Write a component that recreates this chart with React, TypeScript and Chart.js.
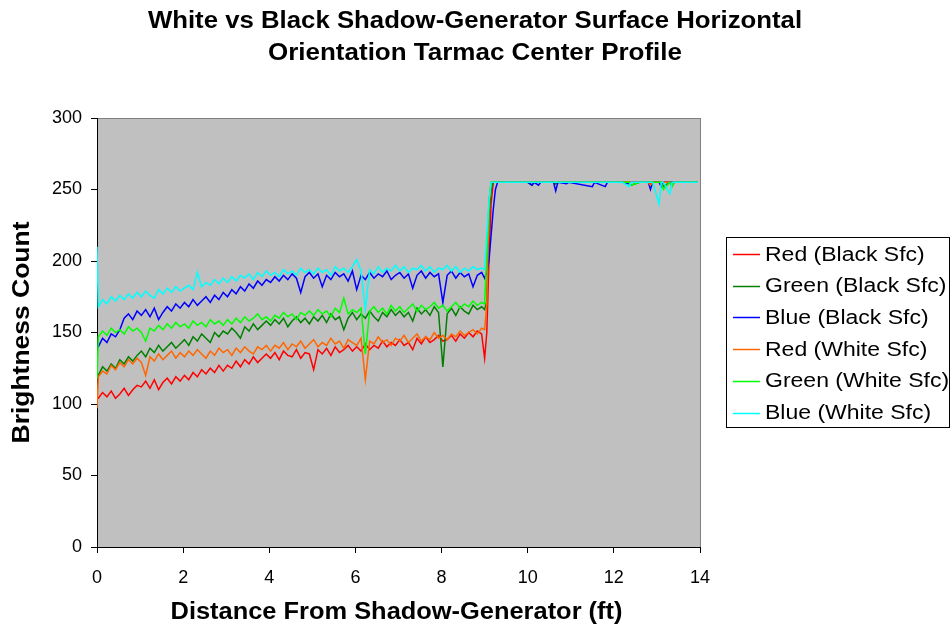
import React, { useEffect, useRef } from "react";
import { Chart, registerables } from "chart.js";

Chart.register(...registerables);

const FONT = "'Liberation Sans', Arial, Helvetica, sans-serif";

const TITLE_LINES = [
  "White vs Black Shadow-Generator Surface Horizontal",
  "Orientation Tarmac Center Profile",
];
const X_TITLE = "Distance From Shadow-Generator (ft)";
const Y_TITLE = "Brightness Count";

const SERIES_NAMES = [
  "Red (Black Sfc)",
  "Green (Black Sfc)",
  "Blue (Black Sfc)",
  "Red (White Sfc)",
  "Green (White Sfc)",
  "Blue (White Sfc)",
];
const SERIES_COLORS = ["#FF0000", "#008000", "#0000FF", "#FF6600", "#00FF00", "#00FFFF"];

const X_MIN = 0;
const X_MAX = 14;
const X_STEP = 2;
const Y_MIN = 0;
const Y_MAX = 300;
const Y_STEP = 50;

// first reading at the shadow-generator edge (x = 0)
const HEAD_VALUES = [104, 118, 140, 97, 118, 210];

// readings from 0.03 ft every 0.1 ft up to 8.93 ft
const MAIN_START = 0.03;
const MAIN_STEP = 0.1;

const RED_BLACK = [
  104, 108, 105, 109, 104, 107, 111, 106, 110, 113,
  112, 116, 111, 117, 110, 115, 118, 114, 119, 116,
  120, 117, 122, 119, 124, 121, 125, 122, 127, 123,
  127, 125, 130, 126, 131, 128, 133, 129, 132, 135,
  132, 136, 131, 137, 134, 133, 138, 132, 136, 135,
  124, 138, 135, 139, 134, 140, 136, 138, 141, 137,
  140, 137, 142, 138, 141, 139, 144, 140, 143, 141,
  145, 141, 143, 138, 146, 142, 147, 143, 145, 148,
  144, 145, 148, 144, 149, 146, 150, 147, 151, 149,
];
const GREEN_BLACK = [
  120, 126, 123, 128, 125, 131, 128, 133, 130, 134,
  137, 133, 139, 136, 141, 137, 140, 143, 139, 142,
  145, 141, 147, 144, 149, 146, 143, 150, 147, 151,
  149, 153, 150, 146, 154, 151, 156, 152, 155, 158,
  155, 159, 156, 160, 154, 158, 161, 157, 160, 156,
  161, 158, 162, 157, 163, 159, 161, 152, 160, 164,
  159, 163, 160, 165, 161, 158, 164, 161, 166, 162,
  165, 161, 164, 158, 167, 163, 166, 162, 168, 164,
  126, 163, 167, 162, 168, 165, 163, 169, 166, 168,
];
const BLUE_BLACK = [
  140, 146, 143, 149, 147, 152, 160, 163, 159, 165,
  162, 166, 161, 167, 159, 164, 168, 165, 170, 167,
  171, 168, 173, 169, 172, 175, 171, 176, 173, 178,
  175, 180, 177, 182, 179, 184, 181, 186, 183, 187,
  185, 189, 186, 190, 187, 191, 188, 178, 189, 192,
  188, 191, 182, 190, 187, 192, 189, 191, 186, 193,
  180, 190, 187, 192, 188, 191, 189, 193, 187, 190,
  192, 188, 191, 181, 190, 193, 188, 192, 189, 191,
  171, 190, 193, 188, 192, 189, 191, 182, 190, 192,
];
const RED_WHITE = [
  119, 123, 121, 127, 124, 129, 126, 131, 128, 132,
  129, 120, 133, 130, 135, 131, 134, 137, 132, 136,
  133, 137, 134, 138, 135, 132, 137, 134, 139, 136,
  138, 134, 139, 136, 140, 137, 135, 140, 138, 141,
  137, 141, 139, 143, 138, 142, 140, 144, 139, 142,
  145, 140, 143, 141, 146, 142, 144, 139, 145, 143,
  141, 146, 117, 144, 142, 147, 143, 145, 141, 146,
  144, 148, 143, 146, 149, 144, 147, 145, 150, 146,
  148, 145, 149, 147, 151, 148, 150, 152, 149, 153,
];
const GREEN_WHITE = [
  147, 151, 148, 153, 150, 152, 149, 154, 151, 153,
  150, 144, 153, 151, 155, 152, 156, 153, 157, 154,
  156, 153, 158, 155, 157, 154, 159, 156, 158, 155,
  159, 156, 160, 157, 161, 158, 160, 163, 159, 161,
  158, 162, 160, 164, 161, 163, 159, 164, 162, 165,
  162, 166, 163, 165, 161, 167, 164, 174, 163, 166,
  164, 167, 135, 165, 168, 164, 167, 163, 169, 165,
  168, 164, 167, 170, 165, 169, 166, 168, 171, 167,
  169, 165, 168, 171, 167, 170, 168, 172, 169, 171,
];
const BLUE_WHITE = [
  168, 173, 170, 175, 172, 176, 173, 177, 174, 178,
  175, 179, 176, 174, 180, 177, 181, 178, 182, 179,
  181, 183, 180, 192, 182, 185, 183, 187, 184, 188,
  185, 189, 186, 190, 188, 191, 187, 192, 189, 193,
  190, 192, 189, 194, 191, 193, 190, 195, 192, 194,
  191, 195, 192, 194, 190, 196, 193, 195, 192, 196,
  201, 193, 166, 194, 191, 196, 192, 195, 193, 197,
  193, 196, 192, 195, 194, 197, 193, 196, 192, 195,
  194, 197, 193, 196, 192, 195, 193, 196, 194, 195,
];

// jump at ~9 ft and the saturated plateau
const TAIL_X = [
  9.0, 9.05, 9.1, 9.15, 9.2, 9.25, 9.3,
  10.0, 10.1, 10.15, 10.25, 10.3,
  10.6, 10.65, 10.7, 10.9, 10.95,
  11.5, 11.55, 11.8, 11.85, 12.0, 12.2,
  12.35, 12.4, 12.6, 12.8, 12.85, 12.9,
  13.05, 13.1, 13.15, 13.3, 13.35, 13.4, 13.95,
];
const RED_BLACK_TAIL = [
  132, 150, 200, 240, 255, 255, 255,
  255, 255, 255, 255, 255,
  255, 254, 255, 255, 255,
  255, 255, 255, 255, 255, 255,
  255, 255, 255, 255, 254, 255,
  255, 255, 255, 255, 255, 255, 255,
];
const GREEN_BLACK_TAIL = [
  166, 172, 232, 250, 255, 255, 255,
  255, 253, 255, 255, 255,
  255, 254, 255, 255, 255,
  255, 255, 255, 255, 255, 255,
  255, 253, 255, 255, 255, 255,
  255, 255, 252, 255, 253, 255, 255,
];
const BLUE_BLACK_TAIL = [
  188, 192, 200, 218, 236, 250, 255,
  255, 253, 255, 253, 255,
  255, 249, 255, 254, 255,
  252, 255, 252, 255, 255, 255,
  254, 255, 255, 255, 250, 255,
  255, 252, 255, 255, 255, 255, 255,
];
const RED_WHITE_TAIL = [
  152, 170, 242, 255, 255, 255, 255,
  255, 255, 255, 255, 255,
  255, 255, 255, 255, 255,
  255, 255, 255, 255, 255, 255,
  255, 255, 255, 255, 253, 255,
  255, 255, 255, 255, 252, 255, 255,
];
const GREEN_WHITE_TAIL = [
  170, 205, 240, 255, 255, 255, 255,
  255, 255, 255, 255, 255,
  255, 255, 255, 255, 255,
  255, 255, 255, 255, 255, 255,
  255, 253, 255, 255, 255, 255,
  255, 255, 250, 255, 252, 255, 255,
];
const BLUE_WHITE_TAIL = [
  194, 218, 242, 255, 255, 255, 255,
  255, 255, 255, 255, 255,
  255, 255, 255, 255, 255,
  255, 255, 255, 255, 255, 255,
  252, 255, 255, 255, 255, 255,
  240, 255, 255, 247, 255, 255, 255,
];

const MAIN_SERIES = [RED_BLACK, GREEN_BLACK, BLUE_BLACK, RED_WHITE, GREEN_WHITE, BLUE_WHITE];
const TAIL_SERIES = [RED_BLACK_TAIL, GREEN_BLACK_TAIL, BLUE_BLACK_TAIL, RED_WHITE_TAIL, GREEN_WHITE_TAIL, BLUE_WHITE_TAIL];

function buildPoints(k: number) {
  const pts: { x: number; y: number }[] = [{ x: 0, y: HEAD_VALUES[k] }];
  MAIN_SERIES[k].forEach((y, i) => pts.push({ x: MAIN_START + i * MAIN_STEP, y }));
  TAIL_SERIES[k].forEach((y, j) => pts.push({ x: TAIL_X[j], y }));
  return pts;
}

// draw text stretched horizontally (in its own direction)
function drawStretched(
  ctx: CanvasRenderingContext2D,
  text: string,
  x: number,
  y: number,
  sx: number,
  align: CanvasTextAlign,
  rotate = 0
) {
  ctx.save();
  ctx.translate(x, y);
  if (rotate) ctx.rotate(rotate);
  ctx.scale(sx, 1);
  ctx.textAlign = align;
  ctx.textBaseline = "middle";
  ctx.fillText(text, 0, 0);
  ctx.restore();
}

const plotAreaPlugin = {
  id: "plotArea",
  beforeDraw(chart: any) {
    const { ctx, chartArea: a } = chart;
    ctx.save();
    ctx.fillStyle = "#FFFFFF";
    ctx.fillRect(0, 0, chart.width, chart.height);
    ctx.fillStyle = "#C0C0C0";
    ctx.fillRect(a.left, a.top, a.right - a.left, a.bottom - a.top);
    ctx.strokeStyle = "#808080";
    ctx.lineWidth = 1;
    ctx.strokeRect(Math.round(a.left) + 0.5, Math.round(a.top) + 0.5, Math.round(a.right - a.left), Math.round(a.bottom - a.top));
    ctx.restore();
  },
};

const textPlugin = {
  id: "textDecor",
  afterDraw(chart: any) {
    const { ctx, chartArea: a } = chart;
    ctx.save();
    ctx.fillStyle = "#000";

    // chart title
    ctx.font = `bold 23px ${FONT}`;
    drawStretched(ctx, TITLE_LINES[0], 475, 22, 1.12, "center");
    drawStretched(ctx, TITLE_LINES[1], 475, 54, 1.13, "center");

    // axis titles
    drawStretched(ctx, X_TITLE, (a.left + a.right) / 2 - 2, 613, 1.105, "center");
    drawStretched(ctx, Y_TITLE, 23, (a.top + a.bottom) / 2, 1.15, "center", -Math.PI / 2);

    // legend
    const lx = 726, ly = 237, lw = 223, lh = 190;
    ctx.strokeStyle = "#000";
    ctx.lineWidth = 1;
    ctx.strokeRect(lx + 0.5, ly + 0.5, lw, lh);
    ctx.font = `20px ${FONT}`;
    SERIES_NAMES.forEach((name, k) => {
      const y = 254 + k * 31.7;
      ctx.strokeStyle = SERIES_COLORS[k];
      ctx.lineWidth = 1.5;
      ctx.beginPath();
      ctx.moveTo(733, Math.round(y) + 0.5);
      ctx.lineTo(760, Math.round(y) + 0.5);
      ctx.stroke();
      ctx.fillStyle = "#000";
      drawStretched(ctx, name, 765, y + 1, 1.15, "left");
    });
    ctx.restore();
  },
};

export default function App() {
  const ref = useRef<HTMLCanvasElement | null>(null);

  useEffect(() => {
    if (!ref.current) return;
    const datasets = SERIES_NAMES.map((name, k) => ({
      label: name,
      data: buildPoints(k),
      borderColor: SERIES_COLORS[k],
      backgroundColor: SERIES_COLORS[k],
      borderWidth: 1.5,
      pointRadius: 0,
      tension: 0,
      fill: false,
      order: SERIES_NAMES.length - 1 - k,
    }));

    const chart = new Chart(ref.current, {
      type: "line",
      data: { datasets },
      plugins: [plotAreaPlugin, textPlugin],
      options: {
        animation: false,
        responsive: false,
        devicePixelRatio: 1,
        layout: { padding: { top: 118, right: 250, bottom: 0, left: 0 } },
        plugins: {
          legend: { display: false },
          title: { display: false },
          tooltip: { enabled: false },
        },
        scales: {
          x: {
            type: "linear",
            min: X_MIN,
            max: X_MAX,
            afterFit: (s: any) => {
              s.height = 83;
            },
            ticks: {
              stepSize: X_STEP,
              color: "#000",
              font: { family: FONT, size: 18 },
              padding: 14,
              maxRotation: 0,
            },
            grid: {
              drawOnChartArea: false,
              drawTicks: true,
              tickLength: 6,
              color: "#000",
            },
            border: { display: true, color: "#000", width: 1 },
            title: { display: false },
          },
          y: {
            type: "linear",
            min: Y_MIN,
            max: Y_MAX,
            afterFit: (s: any) => {
              s.width = 97;
            },
            ticks: {
              stepSize: Y_STEP,
              color: "#000",
              font: { family: FONT, size: 18 },
              padding: 9,
            },
            grid: {
              drawOnChartArea: false,
              drawTicks: true,
              tickLength: 6,
              color: "#000",
            },
            border: { display: true, color: "#000", width: 1 },
            title: { display: false },
          },
        },
      } as any,
    });
    return () => chart.destroy();
  }, []);

  return (
    <div style={{ position: "fixed", left: 0, top: 0, width: 950, height: 630, background: "#fff" }}>
      <canvas ref={ref} width={950} height={630} style={{ display: "block", width: 950, height: 630 }} />
    </div>
  );
}
